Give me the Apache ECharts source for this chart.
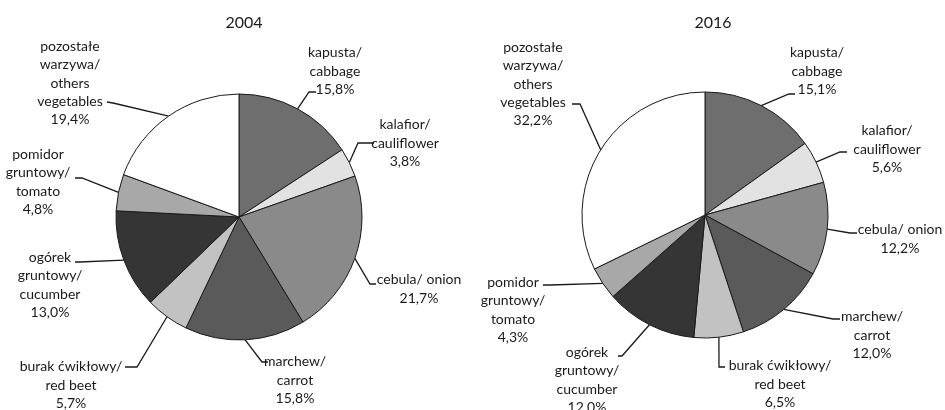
<!DOCTYPE html>
<html>
<head>
<meta charset="utf-8">
<script src="https://cdn.jsdelivr.net/npm/echarts@6/dist/echarts.min.js"></script>
<style>html,body{margin:0;padding:0;background:#fff}#c{width:945px;height:410px}</style>
</head>
<body>
<div id="c"></div>
<script>
// ---- data ----
var categories = [
  'kapusta/\ncabbage',
  'kalafior/\ncauliflower',
  'cebula/ onion',
  'marchew/\ncarrot',
  'burak ćwikłowy/\nred beet',
  'ogórek\ngruntowy/\ncucumber',
  'pomidor\ngruntowy/\ntomato',
  'pozostałe\nwarzywa/\nothers\nvegetables'
];
var years = ['2004', '2016'];
var values2004 = [15.8, 3.8, 21.7, 15.8, 5.7, 13.0, 4.8, 19.4];
var values2016 = [15.1, 5.6, 12.2, 12.0, 6.5, 12.0, 4.3, 32.2];

// ---- style / layout ----
var colors = ['#6e6e6e', '#e2e2e2', '#8a8a8a', '#5a5a5a', '#c2c2c2', '#353535', '#a8a8a8', '#ffffff'];
var centers = [[239, 217], [705, 215]];
var radius = 123;
// label text centre, leader elbow, leader end (layout only)
var labelLayouts = [
  [
    {t: [335, 71], m: [309, 92], e: [316, 92]},
    {t: [405, 143], m: [358, 143], e: [374, 143]},
    {t: [419, 289], m: [370, 284], e: [376, 284]},
    {t: [295, 380], m: [262, 362], e: [268, 362]},
    {t: [71, 385], m: [137, 367], e: [125, 367]},
    {t: [50, 285], m: [80, 262], e: [75, 262]},
    {t: [38, 182], m: [82, 178], e: [75, 178]},
    {t: [70, 83], m: [113, 103], e: [107, 102]}
  ],
  [
    {t: [817, 71], m: [789, 94], e: [795, 94]},
    {t: [887, 149], m: [840, 152], e: [847, 152]},
    {t: [900, 239], m: [850, 233], e: [857, 233]},
    {t: [872, 335], m: [833, 319], e: [840, 319]},
    {t: [780, 384], m: [719, 367], e: [725, 367]},
    {t: [587, 380], m: [622, 356], e: [618, 356]},
    {t: [513, 310], m: [550, 285], e: [543, 285]},
    {t: [533, 84], m: [580, 104], e: [572, 104]}
  ]
];

var FONT = 'Lato, "Open Sans", sans-serif';

function fmt(p) {
  return p.name + '\n' + p.value.toFixed(1).replace('.', ',') + '%';
}

function buildSeries(values, idx) {
  return {
    type: 'pie',
    center: centers[idx],
    radius: radius,
    startAngle: 90,
    clockwise: true,
    avoidLabelOverlap: false,
    animation: false,
    silent: true,
    itemStyle: {borderColor: '#1a1a1a', borderWidth: 1},
    label: {
      show: true,
      position: 'outside',
      formatter: fmt,
      fontFamily: FONT,
      fontSize: 14,
      lineHeight: 18.3,
      color: '#1a1a1a',
      align: 'center'
    },
    labelLine: {show: true, length: 10, length2: 10, lineStyle: {color: '#1a1a1a', width: 1.3}},
    labelLayout: function (params) {
      var L = labelLayouts[idx][params.dataIndex];
      var pts = params.labelLinePoints;
      var start = pts ? pts[0] : L.m;
      return {
        x: L.t[0],
        y: L.t[1],
        align: 'center',
        verticalAlign: 'middle',
        labelLinePoints: [start, L.m, L.e]
      };
    },
    data: categories.map(function (c, i) {
      return {name: c, value: values[i], itemStyle: {color: colors[i]}};
    })
  };
}

var chart = echarts.init(document.getElementById('c'), null, {renderer: 'canvas'});
chart.setOption({
  backgroundColor: '#ffffff',
  title: [
    {text: years[0], left: centers[0][0], top: 10, textAlign: 'center',
     textStyle: {fontFamily: FONT, fontSize: 16, fontWeight: 'normal', color: '#1a1a1a'}},
    {text: years[1], left: centers[1][0] + 3, top: 10, textAlign: 'center',
     textStyle: {fontFamily: FONT, fontSize: 16, fontWeight: 'normal', color: '#1a1a1a'}}
  ],
  series: [buildSeries(values2004, 0), buildSeries(values2016, 1)]
});
</script>
</body>
</html>
